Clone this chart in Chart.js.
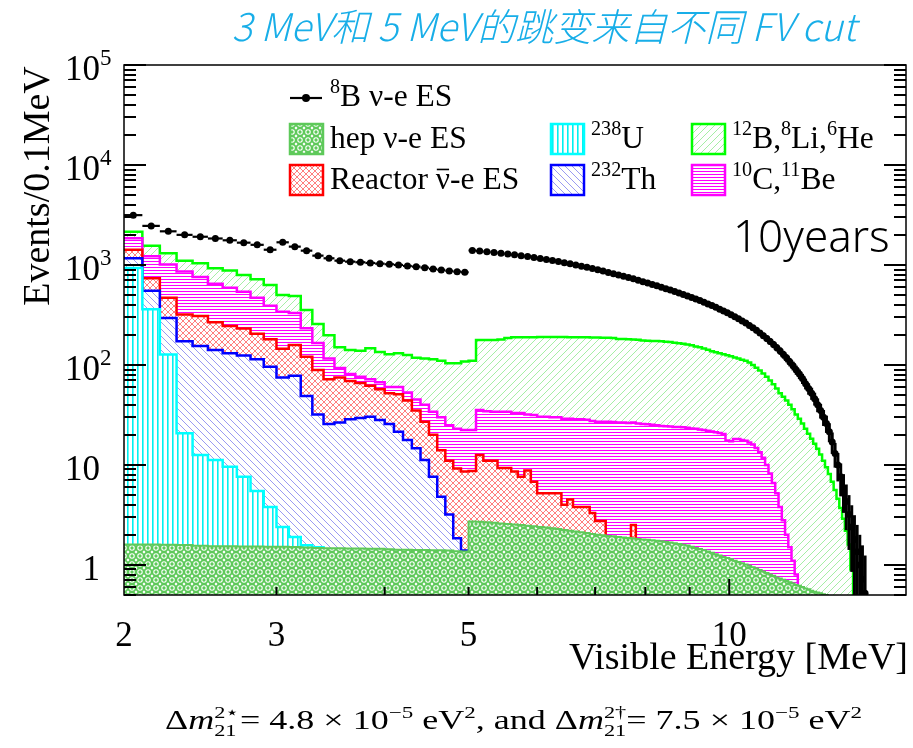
<!DOCTYPE html>
<html>
<head>
<meta charset="utf-8">
<script src="https://cdn.jsdelivr.net/npm/chart.js@4.4.1/dist/chart.umd.min.js"></script>
<style>
  html, body { margin: 0; padding: 0; background: #ffffff; }
  #wrap { width: 913px; height: 748px; position: relative; }
</style>
</head>
<body>
<div id="wrap"><canvas id="c" width="913" height="748"></canvas></div>
<script>
// ---- binning: 0.1 MeV bins starting at 2.0 MeV ----
const binStart = 2.0;
const binWidth = 0.1;

// 12B, 8Li, 6He (bins from 2.0 MeV)
const boronLiHe = [
  2150, 1560, 1310, 1100, 1040, 927, 878, 794, 719, 631,
  500, 490, 355, 257, 198, 150, 141, 139, 147, 135,
  128, 131, 126, 118, 116, 114, 110, 104, 104, 108,
  110, 178, 178, 178, 180, 186, 189, 189, 189, 189,
  190, 190, 190, 190, 190, 189, 189, 189, 189, 188,
  188, 187, 187, 186, 182, 182, 181, 180, 179, 176,
  175, 174, 174, 173, 171, 170, 167, 165, 163, 160,
  157, 153, 150, 146, 142, 137, 134, 131, 128, 125,
  122, 119, 116, 113, 110, 106, 100, 94, 88, 82,
  76, 70, 64, 58, 52, 48, 44, 40, 36, 32,
  29, 26, 23, 20.5, 18.3, 16.3, 14.5, 12.7, 11.0, 9.5,
  8.1, 6.8, 5.6, 4.6, 3.7, 2.9, 2.2, 1.6, 0.9
];

// 10C, 11Be
const carbonBe = [
  1850, 1225, 1010, 860, 760, 650, 590, 540, 470, 390,
  340, 330, 233, 166, 116, 93, 81, 76, 72, 67,
  60, 60, 53, 45, 40, 34, 30, 25, 23, 22.4,
  22.4, 35.5, 34.5, 34, 34, 34, 33, 33, 32, 31.6,
  30.4, 30.4, 30, 30, 29, 29, 28.6, 28.6, 28.3, 27.5,
  27, 27, 27, 26.8, 26.5, 26.5, 26.3, 26.5, 26, 25.7,
  25.5, 25.2, 25, 24.5, 24.3, 24.2, 24, 24, 23.8, 23.5,
  23.2, 23, 22.6, 22.4, 22, 21.6, 21.2, 20.8, 20.4, 17.5,
  17.2, 18.2, 18.2, 17.8, 17.4, 16.8, 16.0, 14.8, 13.4, 11.8,
  10.0, 8.2, 6.6, 5.2, 3.8, 2.8, 2.0, 1.5, 1.1, 0.8
];

// Reactor anti-neutrino ES
const reactor = [
  1420, 736, 470, 320, 309, 268, 245, 231, 205, 181,
  145, 158, 121, 89, 72, 75, 69, 66, 62, 57,
  52, 51, 44, 35, 27, 20, 14, 11, 9.2, 8.6,
  8.7, 12.6, 11.0, 11.0, 9.3, 9.3, 8.6, 7.6, 8.8, 6.8,
  5.2, 5.2, 5.2, 5.2, 4.0, 4.5, 3.8, 3.8, 3.8, 3.3,
  2.75, 2.75, 1.8, 1.75, 1.7, 1.65, 1.6, 2.5, 1.55, 1.5,
  1.45, 1.4, 1.35, 1.3, 1.25, 1.2
];

// 232Th
const thorium = [
  1167, 553, 295, 173, 155, 141, 131, 124, 114, 96,
  75, 78, 49, 32, 25.7, 26.5, 28.6, 29.4, 30.4, 28.2,
  25.7, 21.5, 17.8, 14.7, 11.2, 7.6, 4.8, 3.2, 1.85, 1.39
];

// 238U
const uranium = [
  930, 360, 127, 20.7, 12.6, 11.2, 9.6, 7.6, 5.5, 3.8,
  2.4, 1.9, 1.57, 1.5, 1.3
];

// hep nu-e ES
const hep = [
  1.60, 1.60, 1.59, 1.58, 1.55, 1.54, 1.54, 1.53, 1.53, 1.52,
  1.52, 1.51, 1.49, 1.48, 1.47, 1.47, 1.46, 1.46, 1.45, 1.45,
  1.43, 1.42, 1.42, 1.41, 1.41, 1.40, 1.40, 1.39, 1.37, 1.36,
  2.72, 2.70, 2.67, 2.64, 2.60, 2.56, 2.53, 2.50, 2.46, 2.43,
  2.40, 2.36, 2.32, 2.28, 2.24, 2.20, 2.16, 2.12, 2.08, 2.04,
  2.00, 1.98, 1.95, 1.93, 1.90, 1.88, 1.86, 1.84, 1.82, 1.80,
  1.78, 1.76, 1.74, 1.72, 1.70, 1.68, 1.65, 1.62, 1.59, 1.56,
  1.52, 1.48, 1.44, 1.40, 1.36, 1.32, 1.28, 1.24, 1.20, 1.17,
  1.14, 1.10, 1.07, 1.04, 1.01, 0.98, 0.95, 0.92, 0.89, 0.86,
  0.83, 0.80, 0.78, 0.75, 0.73, 0.71, 0.69, 0.67, 0.65, 0.63,
  0.62, 0.60, 0.58, 0.57, 0.55, 0.54, 0.53, 0.52, 0.51, 0.50,
  0.49
];

// 8B nu-e ES points, bin centres from 2.05 MeV
const boron8 = [
  3150, 2460, 2170, 2000, 1915, 1840, 1765, 1671, 1590, 1420,
  1685, 1525, 1390, 1239, 1166, 1104, 1079, 1064, 1047, 1030,
  1016, 1000, 977, 962, 940, 912, 891, 871, 857, 845,
  1396, 1377, 1355, 1334, 1309, 1285, 1262, 1239, 1213, 1189,
  1161, 1135, 1109, 1081, 1054, 1028, 1000, 973, 946, 920,
  895, 869, 843, 818, 794, 771, 748, 726, 703, 681,
  659, 638, 618, 598, 579, 561, 543, 525, 507, 490,
  473, 456, 440, 424, 407, 392, 377, 361, 347, 332,
  318, 303, 289, 275, 262, 248, 235, 222, 209, 196,
  184, 172, 160, 149, 138, 127, 117, 107, 98, 89,
  81, 73, 65, 58, 52, 46, 40, 35, 30, 26,
  21.5, 17, 13, 10, 7.6, 5.7, 4.3, 3.2, 2.4, 1.8,
  1.35, 1.0, 0.72, 0.52
];

// axis labels
const xTickLabels = [2, 3, 5, 10];
const yTickPowers = [0, 1, 2, 3, 4, 5];

const SERIF = '"Liberation Serif", "Times New Roman", serif';
const FLOOR = 0.05; // below the axis minimum, closes each histogram outline

const canvas = document.getElementById('c');
const ctx = canvas.getContext('2d');

function makePattern(size, bg, draw) {
  const c = document.createElement('canvas');
  c.width = size; c.height = size;
  const g = c.getContext('2d');
  g.fillStyle = bg;
  g.fillRect(0, 0, size, size);
  draw(g, size);
  return ctx.createPattern(c, 'repeat');
}
function diagUp(g, s) {   // "/" hatch
  g.beginPath();
  g.moveTo(-1, s + 1); g.lineTo(s + 1, -1);
  g.moveTo(-1, 1); g.lineTo(1, -1);
  g.moveTo(s - 1, s + 1); g.lineTo(s + 1, s - 1);
  g.stroke();
}
function diagDown(g, s) { // "\" hatch
  g.beginPath();
  g.moveTo(-1, -1); g.lineTo(s + 1, s + 1);
  g.moveTo(s - 1, -1); g.lineTo(s + 1, 1);
  g.moveTo(-1, s - 1); g.lineTo(1, s + 1);
  g.stroke();
}

const patBoron = makePattern(7, '#ffffff', (g, s) => { g.strokeStyle = '#a6eea6'; g.lineWidth = 1; diagUp(g, s); });
const patCarbon = makePattern(3, '#ffffff', (g, s) => { g.fillStyle = '#ff00ff'; g.fillRect(0, 0, s, 1); });
const patReactor = makePattern(6, '#ffffff', (g, s) => { g.strokeStyle = '#ff7070'; g.lineWidth = 0.9; diagUp(g, s); diagDown(g, s); });
const patThorium = makePattern(7, '#ffffff', (g, s) => { g.strokeStyle = '#9a9af2'; g.lineWidth = 1; diagDown(g, s); });
const patUranium = makePattern(5, '#ffffff', (g, s) => { g.fillStyle = '#00f0f0'; g.fillRect(2, 0, 1.6, s); });
const patHep = makePattern(8, '#5ec95a', (g, s) => {
  g.strokeStyle = '#ffffff'; g.lineWidth = 1.1;
  g.beginPath(); g.arc(4, 4, 2.2, 0, Math.PI * 2); g.stroke();
  g.beginPath(); g.moveTo(0, 0); g.lineTo(1, 1); g.moveTo(8, 0); g.lineTo(7, 1);
  g.moveTo(0, 8); g.lineTo(1, 7); g.moveTo(8, 8); g.lineTo(7, 7); g.stroke();
});

function histPoints(vals) {
  const pts = vals.map((v, i) => ({ x: binStart + i * binWidth, y: v }));
  const end = binStart + vals.length * binWidth;
  pts.push({ x: end, y: vals[vals.length - 1] });
  pts.push({ x: end, y: FLOOR });
  return pts;
}
function histDataset(label, vals, color, pattern, width) {
  return {
    label, data: histPoints(vals), stepped: true, fill: 'start',
    borderColor: color, borderWidth: width || 2.5, backgroundColor: pattern,
    pointRadius: 0, borderJoinStyle: 'miter', borderCapStyle: 'butt'
  };
}

const boronPoints = boron8.map((v, i) => ({ x: binStart + binWidth / 2 + i * binWidth, y: v }));

// rich text with superscripts, subscripts, italics and an over-bar
function drawRich(c, x, y, parts, size, measureOnly) {
  const x0 = x;
  parts.forEach(p => {
    if (p.pair) {
      const fs = size * 0.62;
      c.font = fs + 'px ' + SERIF;
      const w1 = c.measureText(p.pair[0]).width, w2 = c.measureText(p.pair[1]).width;
      if (!measureOnly) {
        c.fillText(p.pair[0], x, y - size * 0.4);
        c.fillText(p.pair[1], x, y + size * 0.26);
      }
      x += Math.max(w1, w2);
      return;
    }
    let fs = size, dy = 0;
    if (p.sup) { fs = size * 0.64; dy = -size * 0.4; }
    c.font = (p.it ? 'italic ' : '') + fs + 'px ' + SERIF;
    const w = c.measureText(p.t).width;
    if (!measureOnly) {
      c.fillText(p.t, x, y + dy);
      if (p.bar) {
        c.save(); c.strokeStyle = '#000'; c.lineWidth = 1.6;
        c.beginPath(); c.moveTo(x + 1, y - size * 0.62); c.lineTo(x + w - 1, y - size * 0.62); c.stroke();
        c.restore();
      }
    }
    x += w;
  });
  return x - x0;
}

// extra drawing: frame, ticks, labels, legend, error bars, notes
const decor = {
  id: 'decor',
  afterDatasetsDraw(chart) {
    const c = chart.ctx, xs = chart.scales.x, ys = chart.scales.y, a = chart.chartArea;
    c.save();
    c.beginPath(); c.rect(a.left, a.top, a.right - a.left, a.bottom - a.top); c.clip();
    c.strokeStyle = '#000';
    boronPoints.forEach(p => {
      const y = ys.getPixelForValue(p.y);
      const x = xs.getPixelForValue(p.x);
      const err = Math.sqrt(p.y); // counting error of the bin
      c.lineWidth = 2.2;
      c.beginPath();
      c.moveTo(xs.getPixelForValue(p.x - binWidth / 2), y);
      c.lineTo(xs.getPixelForValue(p.x + binWidth / 2), y);
      c.stroke();
      c.lineWidth = 3;
      c.beginPath();
      c.moveTo(x, ys.getPixelForValue(p.y + err));
      c.lineTo(x, ys.getPixelForValue(Math.max(p.y - err, 0.01)));
      c.stroke();
    });
    c.restore();
  },
  afterDraw(chart) {
    const c = chart.ctx, xs = chart.scales.x, ys = chart.scales.y, a = chart.chartArea;
    c.save();
    // frame
    c.strokeStyle = '#000'; c.lineWidth = 1.5;
    c.strokeRect(a.left, a.top, a.right - a.left, a.bottom - a.top);
    // y ticks (left and right)
    c.lineWidth = 2;
    for (let p = -1; p <= 5; p++) {
      for (let m = 1; m <= 9; m++) {
        const v = m * Math.pow(10, p);
        if (v < 0.5 || v > 1e5) continue;
        const y = Math.round(ys.getPixelForValue(v));
        const len = m === 1 ? 22 : 12;
        c.beginPath();
        c.moveTo(a.left, y); c.lineTo(a.left + len, y);
        c.moveTo(a.right, y); c.lineTo(a.right - len, y);
        c.stroke();
      }
    }
    // x ticks (bottom)
    for (let v = 3; v <= 10; v++) {
      const x = xs.getPixelForValue(v);
      const len = v === 10 ? 16 : 8;
      c.beginPath(); c.moveTo(x, a.bottom); c.lineTo(x, a.bottom - len); c.stroke();
    }
    // y tick labels
    c.fillStyle = '#000';
    yTickPowers.forEach(p => {
      const y = ys.getPixelForValue(Math.pow(10, p)) + 15;
      c.font = '35px ' + SERIF;
      c.textAlign = 'right';
      c.fillText(p === 0 ? '1' : '10', 100, y);
      if (p >= 2) {
        c.textAlign = 'left';
        c.font = '23px ' + SERIF;
        c.fillText(String(p), 100, y - 15);
      }
    });
    // x tick labels
    c.textAlign = 'center';
    c.font = '35px ' + SERIF;
    xTickLabels.forEach(v => c.fillText(String(v), xs.getPixelForValue(v), 646));
    // axis titles
    c.font = '38px ' + SERIF;
    c.textAlign = 'right';
    c.fillText('Visible Energy [MeV]', 908, 669);
    c.save();
    c.translate(49, 186); c.rotate(-Math.PI / 2);
    c.textAlign = 'center'; c.font = '38px ' + SERIF;
    c.fillText('Events/0.1MeV', 0, 0);
    c.restore();

    // legend
    c.textAlign = 'left';
    const LF = 31.5;
    c.strokeStyle = '#000'; c.lineWidth = 2.2;
    c.beginPath(); c.moveTo(290, 98); c.lineTo(322, 98); c.stroke();
    c.beginPath(); c.arc(306, 98, 4, 0, Math.PI * 2); c.fillStyle = '#000'; c.fill();
    drawRich(c, 330, 106, [{ t: '8', sup: true }, { t: 'B \u03bd-e ES' }], LF);
    const boxes = [
      { x: 290, y: 124, pat: patHep, col: '#5ec95a', parts: [{ t: 'hep \u03bd-e ES' }] },
      { x: 290, y: 165, pat: patReactor, col: '#ff0000', parts: [{ t: 'Reactor ' }, { t: '\u03bd', bar: true }, { t: '-e ES' }] },
      { x: 551, y: 124, pat: patUranium, col: '#00ffff', parts: [{ t: '238', sup: true }, { t: 'U' }] },
      { x: 551, y: 165, pat: patThorium, col: '#0000ff', parts: [{ t: '232', sup: true }, { t: 'Th' }] },
      { x: 692, y: 124, pat: patBoron, col: '#00ff00', parts: [{ t: '12', sup: true }, { t: 'B,' }, { t: '8', sup: true }, { t: 'Li,' }, { t: '6', sup: true }, { t: 'He' }] },
      { x: 692, y: 165, pat: patCarbon, col: '#ff00ff', parts: [{ t: '10', sup: true }, { t: 'C,' }, { t: '11', sup: true }, { t: 'Be' }] }
    ];
    boxes.forEach(b => {
      c.fillStyle = b.pat;
      c.fillRect(b.x, b.y, 33, 30);
      c.strokeStyle = b.col; c.lineWidth = 2.5;
      c.strokeRect(b.x, b.y, 33, 30);
      c.fillStyle = '#000';
      drawRich(c, b.x + 40, b.y + 24, b.parts, LF);
    });

    // exposure note
    c.font = '300 44px "Noto Sans", "DejaVu Sans", sans-serif';
    c.fillStyle = '#000';
    c.fillText('10years', 733, 252);

    // title
    c.font = 'italic 300 38px "Noto Sans CJK SC", "Noto Sans", sans-serif';
    c.fillStyle = '#18aee8';
    c.textAlign = 'center';
    c.fillText('3 MeV\u548c 5 MeV\u7684\u8df3\u53d8\u6765\u81ea\u4e0d\u540c FV cut', 544, 41);

    // oscillation parameters (wide serif setting)
    c.textAlign = 'left';
    c.fillStyle = '#000';
    const note = [
      { t: '\u0394' }, { t: 'm', it: true }, { pair: ['2\u22c6', '21'] },
      { t: '= 4.8 \u00d7 10' }, { t: '\u22125', sup: true }, { t: ' eV' }, { t: '2', sup: true },
      { t: ', and \u0394' }, { t: 'm', it: true }, { pair: ['2\u2020', '21'] },
      { t: '= 7.5 \u00d7 10' }, { t: '\u22125', sup: true }, { t: ' eV' }, { t: '2', sup: true }
    ];
    const noteSize = 27;
    const w0 = drawRich(c, 0, 0, note, noteSize, true);
    c.save();
    c.translate(165, 729);
    c.scale(697 / w0, 1);
    drawRich(c, 0, 0, note, noteSize);
    c.restore();
    c.restore();
  }
};

new Chart(canvas, {
  type: 'line',
  data: {
    datasets: [
      {
        label: '8B nu-e ES', data: boronPoints, showLine: false,
        pointRadius: 3.5, pointBackgroundColor: '#000', pointBorderColor: '#000', pointBorderWidth: 0
      },
      histDataset('hep nu-e ES', hep, '#5ec95a', patHep, 2),
      histDataset('238U', uranium, '#00ffff', patUranium),
      histDataset('232Th', thorium, '#0000ff', patThorium),
      histDataset('Reactor anti-nu-e ES', reactor, '#ff0000', patReactor),
      histDataset('10C, 11Be', carbonBe, '#ff00ff', patCarbon),
      histDataset('12B, 8Li, 6He', boronLiHe, '#00ff00', patBoron)
    ]
  },
  options: {
    responsive: false,
    animation: false,
    devicePixelRatio: 1,
    layout: { padding: { left: 124, top: 65, right: 7, bottom: 153 } },
    plugins: { legend: { display: false }, tooltip: { enabled: false }, title: { display: false } },
    scales: {
      x: { type: 'logarithmic', min: 2, max: 16, display: false },
      y: { type: 'logarithmic', min: 0.5, max: 1e5, display: false }
    }
  },
  plugins: [decor]
});
</script>
</body>
</html>
